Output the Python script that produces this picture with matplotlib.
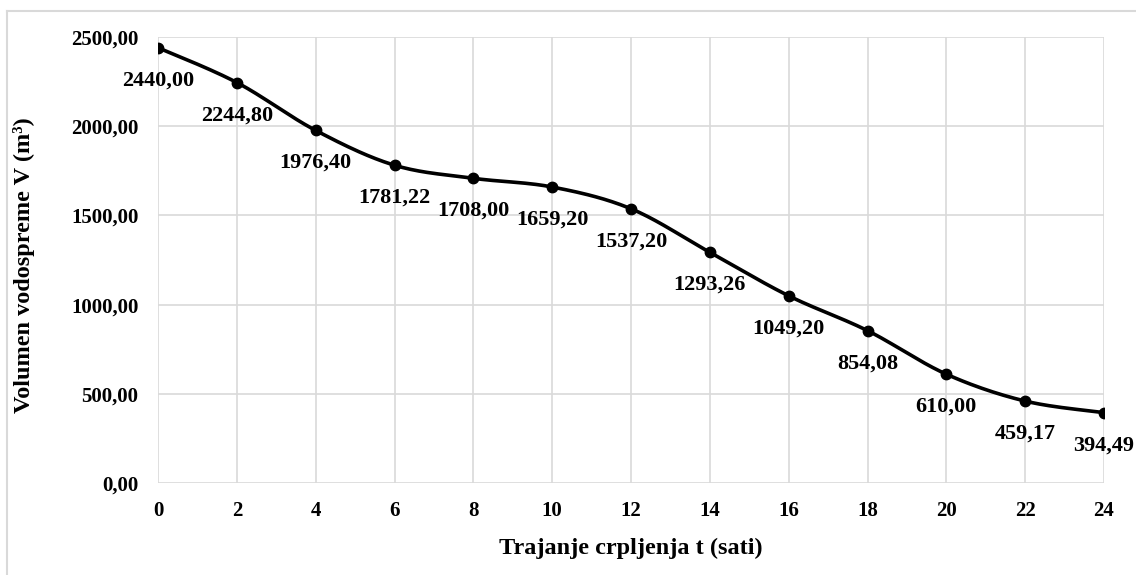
import numpy as np
import matplotlib.pyplot as plt
from matplotlib.lines import Line2D

# Volumen vodospreme kroz vrijeme crpljenja
hours = [0, 2, 4, 6, 8, 10, 12, 14, 16, 18, 20, 22, 24]
volume = [2440.00, 2244.80, 1976.40, 1781.22, 1708.00, 1659.20, 1537.20,
          1293.26, 1049.20, 854.08, 610.00, 459.17, 394.49]
y_ticks = [0, 500, 1000, 1500, 2000, 2500]

plt.rcParams['font.family'] = ['Liberation Serif', 'DejaVu Serif']
plt.rcParams['font.weight'] = 'bold'

W, H = 1136, 575
fig = plt.figure(figsize=(W / 100, H / 100), dpi=100)
fig.subplots_adjust(left=158 / W, right=1104 / W, top=1 - 37 / H, bottom=1 - 483 / H)
ax = fig.add_subplot(111)


def smooth(x, y, n=30):
    # Excel-like smoothed line (Catmull-Rom as cubic Bezier)
    x = np.asarray(x, float)
    y = np.asarray(y, float)
    px = np.concatenate([[x[0]], x, [x[-1]]])
    py = np.concatenate([[y[0]], y, [y[-1]]])
    t = np.linspace(0, 1, n)[:, None]
    xs, ys = [], []
    for i in range(1, len(px) - 2):
        p0 = np.array([px[i], py[i]])
        p3 = np.array([px[i + 1], py[i + 1]])
        p1 = p0 + (np.array([px[i + 1], py[i + 1]]) - np.array([px[i - 1], py[i - 1]])) / 6
        p2 = p3 - (np.array([px[i + 2], py[i + 2]]) - np.array([px[i], py[i]])) / 6
        b = ((1 - t) ** 3) * p0 + 3 * ((1 - t) ** 2) * t * p1 + 3 * (1 - t) * t ** 2 * p2 + t ** 3 * p3
        xs.append(b[:, 0])
        ys.append(b[:, 1])
    return np.concatenate(xs), np.concatenate(ys)


sx, sy = smooth(hours, volume)
ax.plot(sx, sy, color='black', lw=2.6, solid_capstyle='round', zorder=3)
ax.plot(hours, volume, 'o', color='black', ms=7.5, zorder=4)

# data labels below points
for h, v in zip(hours, volume):
    ax.annotate(f"{v:.2f}".replace('.', ','), (h, v), xytext=(0, -23.5),
                textcoords='offset points', ha='center', va='center',
                fontsize=16, fontweight='bold')

ax.set_xlim(0, 24)
ax.set_ylim(0, 2500)
ax.set_xticks(hours)
ax.set_yticks(y_ticks)
ax.set_yticklabels([f"{t:.2f}".replace('.', ',') for t in y_ticks])
ax.tick_params(length=0, labelsize=15)
ax.tick_params(axis='y', pad=14)
ax.tick_params(axis='x', pad=13)
for lab in ax.get_xticklabels() + ax.get_yticklabels():
    lab.set_fontweight('bold')
ax.grid(True, color='#d9d9d9', lw=1.2)
ax.set_axisbelow(True)
for s in ax.spines.values():
    s.set_visible(False)

fig.text(631 / W, 1 - 548 / H, 'Trajanje crpljenja t (sati)', ha='center', va='center',
         fontsize=17.5, fontweight='bold')
fig.text(24 / W, 1 - 265 / H, 'Volumen vodospreme V (m³)', ha='center', va='center',
         rotation=90, fontsize=17.5, fontweight='bold')

# chart area border (left and top visible)
fig.add_artist(Line2D([7 / W, 7 / W], [0, 1 - 11 / H], color='#d9d9d9', lw=1.5))
fig.add_artist(Line2D([7 / W, 1], [1 - 11 / H, 1 - 11 / H], color='#d9d9d9', lw=1.5))

fig.savefig('out.png', dpi=100)
